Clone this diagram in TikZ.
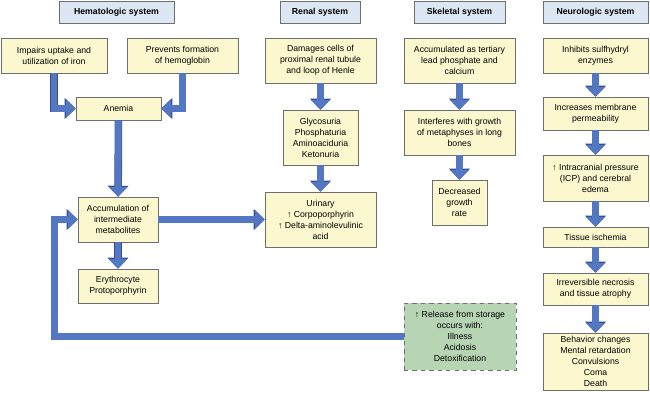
\documentclass[tikz,border=0pt]{standalone}
\usepackage{fontspec}
\setmainfont{Liberation Sans}
\usetikzlibrary{arrows.meta}
\definecolor{boxfill}{RGB}{251,248,207}
\definecolor{headfill}{RGB}{221,231,244}
\definecolor{relfill}{RGB}{183,212,180}
\definecolor{edgegray}{RGB}{110,110,110}
\definecolor{arrowblue}{RGB}{84,119,196}
\definecolor{arrowedge}{RGB}{52,76,140}

\begin{document}
\begin{tikzpicture}[
      x=0.025cm, y=-0.025cm,
      font=\fontsize{6.2}{7.8}\selectfont,
      box/.style={draw=edgegray, fill=boxfill, align=center, inner sep=1pt},
      headbox/.style={box, fill=headfill, minimum height=0.55cm,
        font=\fontsize{6.2}{7.8}\selectfont\bfseries},
      storebox/.style={box, fill=relfill, dashed},
      blk/.style={draw=arrowblue, line width=4.6pt, -{Triangle[width=13.2pt,length=7pt]},
        preaction={draw=arrowedge, line width=5.4pt, -{Triangle[width=14.4pt,length=7.8pt]}}}
    ]
    \useasboundingbox (0,0) rectangle (650,400);
    % headers
    \node[headbox, minimum width=2.875cm] (hem) at (116.5,12) {Hematologic system};
    \node[headbox, minimum width=2cm] (ren) at (320,12) {Renal system};
    \node[headbox, minimum width=2.275cm] (ske) at (459.5,12) {Skeletal system};
    \node[headbox, minimum width=2.625cm] (neu) at (595.5,12) {Neurologic system};

    % hematologic
    \node[box, minimum width=2.65cm, minimum height=0.875cm] (imp) at (54,55.5) {Impairs uptake and\\utilization of iron};
    \node[box, minimum width=2.775cm, minimum height=0.875cm] (prev) at (182.5,55.5) {Prevents formation\\of hemoglobin};
    \node[box, minimum width=2.125cm, minimum height=0.575cm] (anem) at (118.5,108.5) {Anemia};
    \node[box, minimum width=2cm, minimum height=1.125cm] (accum) at (118,219.5) {Accumulation of\\intermediate\\metabolites};
    \node[box, minimum width=2cm, minimum height=0.85cm] (ery) at (118,286) {Erythrocyte\\Protoporphyrin};
    \draw[blk] (imp.south) |- (anem.west);
    \draw[blk] (prev.south) |- (anem.east);
    \draw[blk] (anem) -- (accum);
    \draw[blk] (accum) -- (ery);

    % renal
    \node[box, minimum width=2.775cm, minimum height=1.125cm] (dmg) at (320.5,60.5) {Damages cells of\\proximal renal tubule\\and loop of Henle};
    \node[box, minimum width=1.875cm, minimum height=1.375cm] (gly) at (320.5,137.5) {Glycosuria\\Phosphaturia\\Aminoaciduria\\Ketonuria};
    \node[box, minimum width=2.775cm, minimum height=1.375cm] (uri) at (320.5,219.5) {Urinary\\↑ Corpoporphyrin\\↑ Delta-aminolevulinic\\acid};
    \draw[blk] (dmg) -- (gly);
    \draw[blk] (gly) -- (uri);
    \draw[blk] (accum) -- (uri);

    % skeletal
    \node[box, minimum width=2.775cm, minimum height=1.125cm] (lead) at (459.5,60.5) {Accumulated as tertiary\\lead phosphate and\\calcium};
    \node[box, minimum width=2.775cm, minimum height=1.125cm] (intf) at (459.5,132.5) {Interferes with growth\\of metaphyses in long\\bones};
    \node[box, minimum width=1.375cm, minimum height=1.125cm] (decr) at (459.5,202.5) {Decreased\\growth\\rate};
    \draw[blk] (lead) -- (intf);
    \draw[blk] (intf) -- (decr);

    % neurologic
    \node[box, minimum width=2.625cm, minimum height=0.875cm] (inh) at (595.5,55.5) {Inhibits sulfhydryl\\enzymes};
    \node[box, minimum width=2.625cm, minimum height=0.825cm] (incr) at (595.5,113.5) {Increases membrane\\permeability};
    \node[box, minimum width=2.625cm, minimum height=1.15cm] (icp) at (595.5,178) {↑ Intracranial pressure\\(ICP) and cerebral\\edema};
    \node[box, minimum width=2.625cm, minimum height=0.5cm] (isch) at (595.5,237) {Tissue ischemia};
    \node[box, minimum width=2.625cm, minimum height=0.8cm] (necr) at (595.5,289) {Irreversible necrosis\\and tissue atrophy};
    \node[box, minimum width=2.625cm, minimum height=1.425cm] (behav) at (595.5,361.5) {Behavior changes\\Mental retardation\\Convulsions\\Coma\\Death};
    \draw[blk] (inh) -- (incr);
    \draw[blk] (incr) -- (icp);
    \draw[blk] (icp) -- (isch);
    \draw[blk] (isch) -- (necr);
    \draw[blk] (necr) -- (behav);

    % release loop
    \node[storebox, minimum width=2.8cm, minimum height=1.675cm] (rel) at (460,336.5) {↑ Release from storage\\occurs with:\\Illness\\Acidosis\\Detoxification};
    \coordinate (loop) at (54.5,219.5);
    \draw[blk] (rel.west) -| (loop) -- (accum.west);
  \end{tikzpicture}
\end{document}
